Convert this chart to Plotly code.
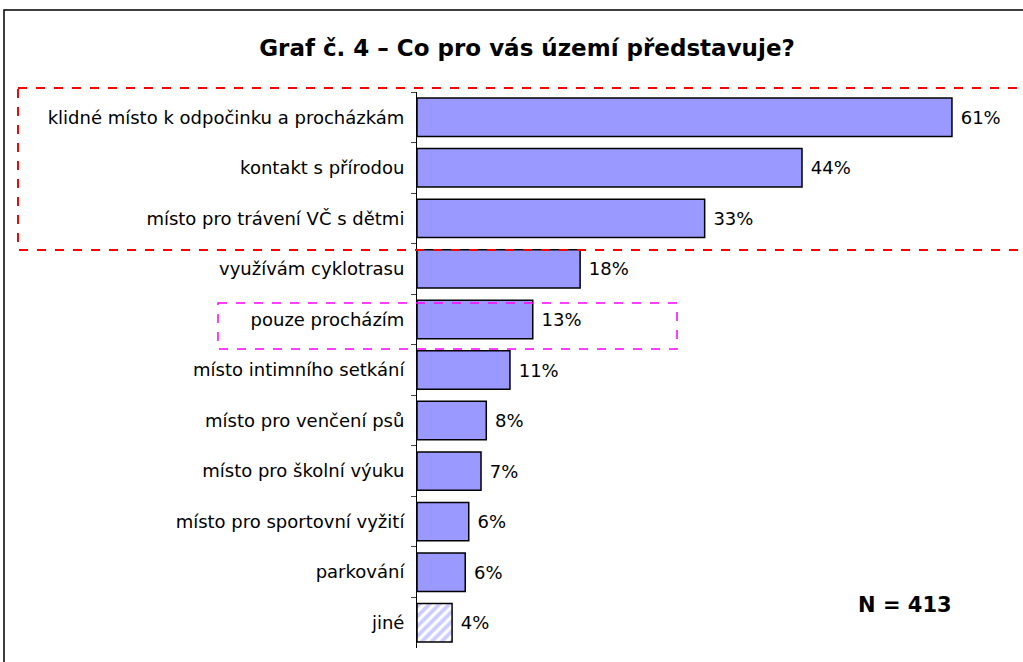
import plotly.graph_objects as go

categories = [
    "klidné místo k odpočinku a procházkám",
    "kontakt s přírodou",
    "místo pro trávení VČ s dětmi",
    "využívám cyklotrasu",
    "pouze procházím",
    "místo intimního setkání",
    "místo pro venčení psů",
    "místo pro školní výuku",
    "místo pro sportovní vyžití",
    "parkování",
    "jiné",
]
values = [61.0, 43.9, 32.8, 18.6, 13.2, 10.6, 7.9, 7.3, 5.9, 5.5, 4.0]
value_labels = ["61%", "44%", "33%", "18%", "13%", "11%", "8%", "7%", "6%", "6%", "4%"]
patterns = ["", "", "", "", "", "", "", "", "", "", "/"]

W, H = 1023, 662
L, R, T, B = 417, 13, 92, 14
PW, PH = W - L - R, H - T - B
PX_PER_UNIT = 8.77
xmax = PW / PX_PER_UNIT

def px(x):
    return (x - L) / PW

def py(y):
    return (H - B - y) / PH

fill = "#9999FF"

fig = go.Figure(go.Bar(
    y=categories,
    x=values,
    orientation="h",
    text=[" " + t for t in value_labels],
    textposition="outside",
    textfont=dict(family="DejaVu Sans", size=18, color="black"),
    cliponaxis=False,
    marker=dict(
        color=fill,
        line=dict(color="black", width=1.5),
        pattern=dict(shape=patterns, fgcolor=fill, bgcolor="white", size=7, solidity=0.55),
    ),
    width=0.76,
    hoverinfo="skip",
))

fig.update_layout(
    width=W, height=H,
    margin=dict(l=L, r=R, t=T, b=B),
    paper_bgcolor="white",
    plot_bgcolor="white",
    showlegend=False,
    font=dict(family="DejaVu Sans", size=18, color="black"),
    title=dict(
        text="<b>Graf č. 4 – Co pro vás území představuje?</b>",
        x=527 / W, xanchor="center",
        y=1 - 48 / H, yanchor="middle",
        font=dict(family="DejaVu Sans", size=23, color="black"),
    ),
    xaxis=dict(range=[0, xmax], visible=False, fixedrange=True),
    yaxis=dict(
        autorange="reversed",
        type="category",
        showline=True, linecolor="black", linewidth=1,
        ticks="outside", tickson="boundaries", ticklen=5, tickcolor="#444444",
        tickfont=dict(family="DejaVu Sans", size=18, color="black"),
        ticklabelstandoff=8,
        showgrid=False, zeroline=False, fixedrange=True,
    ),
    shapes=[
        dict(type="rect", xref="paper", yref="paper",
             x0=px(4), x1=px(1040), y0=py(10), y1=py(680),
             line=dict(color="black", width=1.5), fillcolor="rgba(0,0,0,0)"),
        dict(type="rect", xref="paper", yref="paper",
             x0=px(18), x1=px(1040), y0=py(88), y1=py(250),
             line=dict(color="#FF0000", width=2, dash="dash"), fillcolor="rgba(0,0,0,0)"),
        dict(type="rect", xref="paper", yref="paper",
             x0=px(218), x1=px(677), y0=py(303), y1=py(349),
             line=dict(color="#FF00FF", width=1.5, dash="dash"), fillcolor="rgba(0,0,0,0)"),
    ],
    annotations=[
        dict(text="<b>N = 413</b>", xref="paper", yref="paper",
             x=px(905), y=py(605), xanchor="center", yanchor="middle",
             showarrow=False, font=dict(family="DejaVu Sans", size=21, color="black")),
    ],
)

fig.write_html("out.html", config={"displayModeBar": False},
               post_script="document.body.style.margin='0';")
